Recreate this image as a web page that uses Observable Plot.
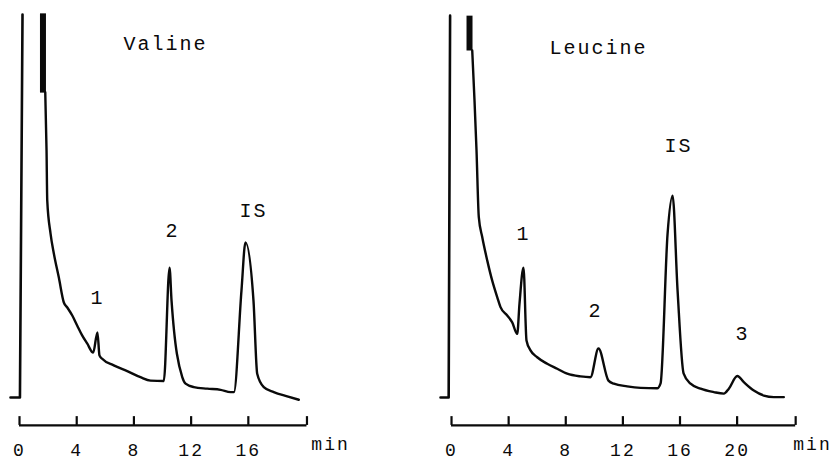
<!DOCTYPE html>
<html>
<head>
<meta charset="utf-8">
<script src="https://cdn.jsdelivr.net/npm/d3@7"></script>
<script src="https://cdn.jsdelivr.net/npm/@observablehq/plot@0.6"></script>
<style>
  html, body { margin: 0; padding: 0; background: #fff; }
  #row { display: flex; width: 836px; height: 461px; }
</style>
</head>
<body>
<div id="row"></div>
<script>
// ---------- data (time in min, detector signal in arbitrary units) ----------
const valineTitle = "Valine";
const leucineTitle = "Leucine";
const valineTicks = [0, 4, 8, 12, 16];
const leucineTicks = [0, 4, 8, 12, 16, 20];
const valineAxisEnd = 20.1;
const leucineAxisEnd = 24.1;
const unitLabel = "min";

const valineInjection = [[-0.63, 0], [0.03, 0], [0.21, 100]];
const valineSolventBand = [[1.64, 100.3], [1.64, 79.6]];
const valineTrace = [[1.80, 79.7], [1.89, 64.5], [1.94, 51.4], [2.17, 42.8], [2.40, 37.6], [2.75, 31.3],
  [3.10, 24.8], [3.34, 23.5], [3.69, 21.4], [4.03, 18.8], [4.38, 16.2], [4.73, 14.1], [5.15, 11.7],
  [5.45, 17.0], [5.59, 11.0], [5.78, 10.1], [6.59, 8.4], [7.53, 6.9], [8.46, 5.3], [9.16, 4.4], [10.09, 4.3],
  [10.49, 33.9], [10.63, 25.3], [11.38, 5.3], [11.61, 3.6], [12.19, 2.7], [13.13, 2.3], [14.06, 2.0],
  [14.76, 1.4], [14.99, 1.4], [15.52, 27.9], [15.80, 40.5], [16.36, 25.3], [16.62, 6.2], [17.08, 2.7],
  [17.78, 1.4], [18.72, 0.3], [19.53, -0.6]];
const valinePeakNames = ["1", "2", "IS"];
const valinePeakTimes = [5.45, 10.7, 16.36];
const valinePeakHeights = [26.1, 43.6, 48.8];

const leucineInjection = [[-0.77, 0], [-0.2, 0], [-0.1, 99.7]];
const leucineSolventBand = [[1.26, 99.7], [1.26, 90.6]];
const leucineTrace = [[1.45, 90.6], [1.61, 77.5], [1.75, 64.5], [1.91, 47.1], [2.15, 41.9], [2.50, 35.8],
  [2.85, 30.5], [3.20, 26.2], [3.43, 23.6], [3.90, 21.4], [4.25, 19.6], [4.60, 16.6], [4.76, 24.5],
  [5.04, 33.9], [5.25, 14.9], [5.53, 12.3], [6.00, 10.5], [6.70, 8.8], [7.40, 7.5], [8.10, 6.2],
  [9.03, 5.5], [9.73, 5.3], [10.29, 12.8], [10.99, 4.4], [11.37, 3.6], [12.30, 2.9], [13.24, 2.5],
  [14.40, 2.4], [14.64, 3.7], [15.13, 42.8], [15.48, 52.7], [15.83, 27.9], [16.25, 6.3], [16.74, 3.6],
  [17.44, 2.3], [18.37, 1.4], [19.07, 1.0], [19.42, 2.3], [20.01, 5.6], [20.47, 4.0], [21.17, 1.8],
  [21.87, 0.5], [22.57, 0.1], [23.27, 0.1]];
const leucinePeakNames = ["1", "2", "IS", "3"];
const leucinePeakTimes = [5.04, 10.08, 15.90, 20.38];
const leucinePeakHeights = [42.8, 22.7, 65.8, 16.7];

// ---------- drawing ----------
const FONT = "'Courier New', 'Liberation Mono', monospace";
const INK = "#0a0a0a";
const AXIS_LEVEL = -7.3;
const TICK_TOP = -5;

function panel(cfg) {
  const pts = a => a.map(([t, s]) => ({t, s}));
  const peaks = cfg.peakNames.map((n, i) => ({n, t: cfg.peakTimes[i], s: cfg.peakHeights[i]}));
  return Plot.plot({
    width: 418,
    height: 461,
    marginTop: 14,
    marginBottom: 35.3,
    marginLeft: cfg.marginLeft,
    marginRight: cfg.marginRight,
    x: {domain: cfg.xDomain, label: null},
    y: {domain: [-7.5, 100], axis: null},
    style: {background: "white", fontFamily: FONT, letterSpacing: "2px", overflow: "visible"},
    marks: [
      Plot.line(pts(cfg.injection), {x: "t", y: "s", stroke: INK, strokeWidth: 2.6}),
      Plot.line(pts(cfg.band), {x: "t", y: "s", stroke: INK, strokeWidth: 6, strokeLinecap: "butt"}),
      Plot.line(pts(cfg.trace), {x: "t", y: "s", curve: "monotone-x", stroke: INK, strokeWidth: 2.4, strokeLinejoin: "round"}),
      Plot.ruleY([AXIS_LEVEL], {x1: 0, x2: cfg.axisEnd, stroke: INK, strokeWidth: 2.2}),
      Plot.ruleX([...cfg.ticks, cfg.axisEnd], {x: d => d, y1: AXIS_LEVEL, y2: TICK_TOP, stroke: INK, strokeWidth: 2.2}),
      Plot.axisX({ticks: cfg.ticks, label: null, tickSize: 0, tickPadding: 17, fontSize: 18, fontFamily: FONT, fill: INK, tickFormat: d => String(d)}),
      Plot.text([unitLabel], {x: () => cfg.unitX, frameAnchor: "bottom", dy: 24, fontSize: 18, fontFamily: FONT, fill: INK}),
      Plot.text([cfg.title], {x: () => cfg.titleT, y: () => cfg.titleS, fontSize: 20, fontFamily: FONT, fill: INK}),
      Plot.text(peaks, {x: "t", y: "s", text: "n", fontSize: 20, fontFamily: FONT, fill: INK})
    ]
  });
}

const row = document.getElementById("row");
row.append(panel({
  title: valineTitle, titleT: 10.2, titleS: 92.4,
  injection: valineInjection, band: valineSolventBand, trace: valineTrace,
  peakNames: valinePeakNames, peakTimes: valinePeakTimes, peakHeights: valinePeakHeights,
  ticks: valineTicks, axisEnd: valineAxisEnd, unitX: 21.75,
  xDomain: [-0.7, 20.2], marginLeft: 9, marginRight: 110.1
}));
row.append(panel({
  title: leucineTitle, titleT: 10.3, titleS: 91.4,
  injection: leucineInjection, band: leucineSolventBand, trace: leucineTrace,
  peakNames: leucinePeakNames, peakTimes: leucinePeakTimes, peakHeights: leucinePeakHeights,
  ticks: leucineTicks, axisEnd: leucineAxisEnd, unitX: 25.28,
  xDomain: [-0.8, 24.2], marginLeft: 21.6, marginRight: 39.4
}));
</script>
</body>
</html>
